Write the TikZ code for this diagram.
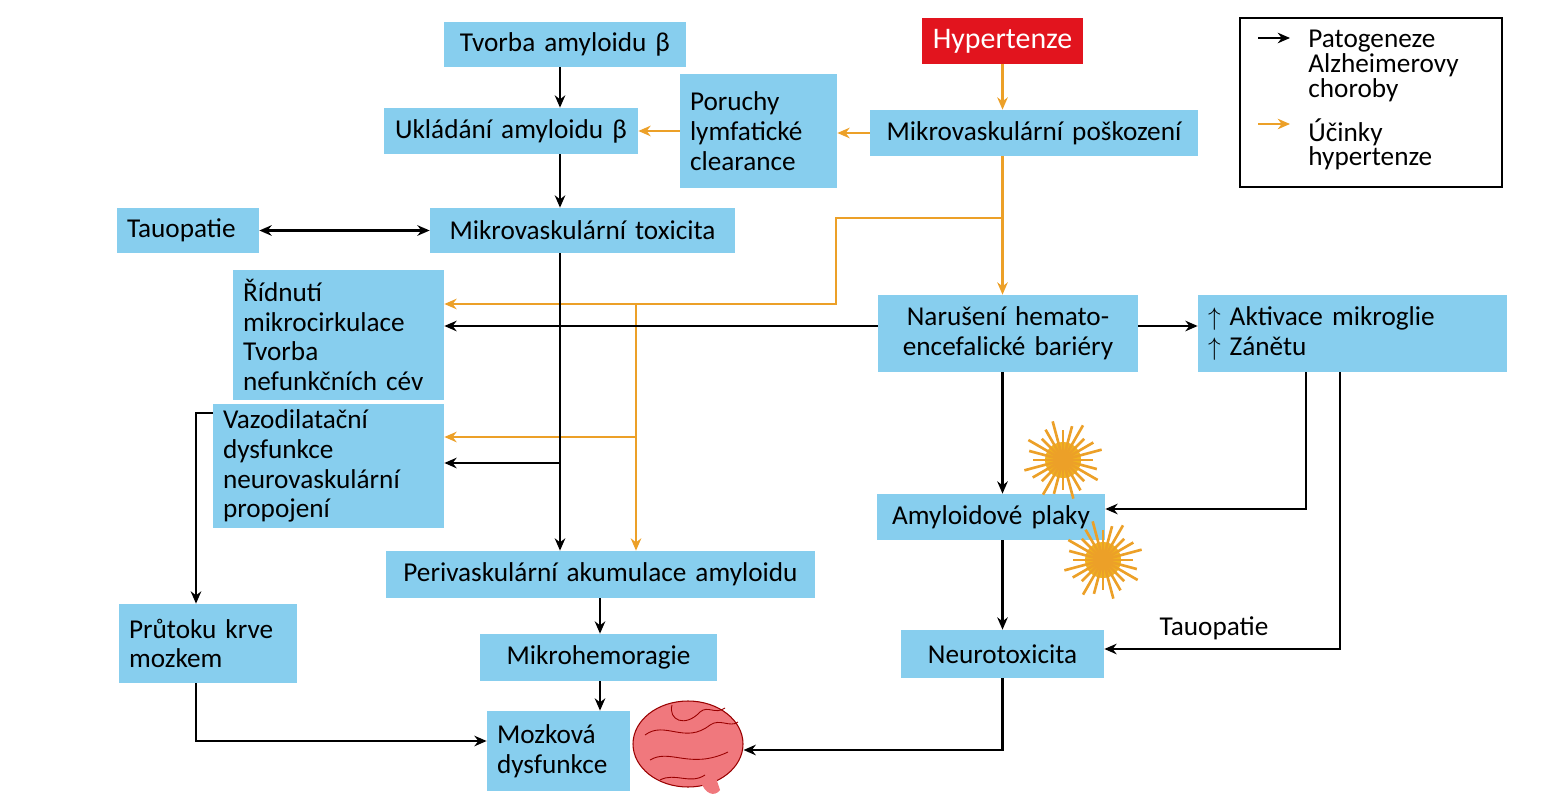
\documentclass[tikz,border=0pt]{standalone}
\usepackage{fontspec}
\setmainfont{Carlito}
\usetikzlibrary{arrows.meta,calc,shapes.geometric}
\definecolor{bx}{RGB}{135,206,238}
\definecolor{hr}{RGB}{226,20,30}
\definecolor{og}{RGB}{236,160,40}
\definecolor{brn}{RGB}{240,120,125}
\newcommand{\bxx}[7]{\node[box,#7,minimum width={(#4-#2)*0.02cm},minimum height={(#5-#3)*0.02cm},text width={(#4-#2-20)*0.02cm}] (#1) at ({(#2+#4)/2},{(#3+#5)/2}) {#6};}
\begin{document}
\begin{tikzpicture}[x=0.02cm,y=-0.02cm,
 box/.style={fill=bx,inner sep=0pt,font=\fontsize{15.5}{17}\selectfont},
 bk/.style={line width=1.2pt,-{Stealth[length=7pt,width=6pt]}},
 or/.style={line width=1.2pt,og,-{Stealth[length=7pt,width=6pt]}},
 ln/.style={line width=1.2pt}]
\useasboundingbox (0,0) rectangle (1567,800);
\bxx{tv}{444}{22}{686}{67}{Tvorba amyloidu β}{align=center}
\bxx{hy}{922}{18}{1083}{64}{\textcolor{white}{\fontsize{17}{19}\selectfont Hypertenze}}{align=center,fill=hr}
\bxx{uk}{384}{108}{638}{154}{Ukládání amyloidu β}{align=center}
\bxx{po}{680}{74}{837}{188}{Poruchy\\lymfatické\\clearance}{align=left}
\bxx{mp}{870}{110}{1198}{156}{Mikrovaskulární poškození}{align=center}
\bxx{ta}{117}{208}{259}{253}{Tauopatie}{align=left}
\bxx{mt}{430}{208}{735}{253}{Mikrovaskulární toxicita}{align=center}
\bxx{ri}{233}{270}{444}{400}{Řídnutí\\mikrocirkulace\\Tvorba\\nefunkčních cév}{align=left}
\bxx{na}{878}{295}{1138}{372}{Narušení hemato-\\encefalické bariéry}{align=center}
\bxx{ak}{1198}{295}{1507}{372}{$\uparrow$ Aktivace mikroglie\\$\uparrow$ Zánětu}{align=left}
\bxx{va}{213}{404}{444}{528}{Vazodilatační\\dysfunkce\\neurovaskulární\\propojení}{align=left}
\bxx{am}{877}{494}{1105}{540}{Amyloidové plaky}{align=center}
\bxx{pe}{386}{551}{815}{598}{Perivaskulární akumulace amyloidu}{align=center}
\bxx{pr}{119}{604}{297}{683}{Průtoku krve\\mozkem}{align=left}
\bxx{mh}{480}{634}{717}{681}{Mikrohemoragie}{align=center}
\bxx{ne}{901}{630}{1104}{678}{Neurotoxicita}{align=center}
\bxx{mo}{487}{711}{630}{791}{Mozková\\dysfunkce}{align=left}
% legend
\draw[line width=1.3pt] (1240,18) rectangle (1502,187);
\coordinate (l1) at (1258,38); \coordinate (l2) at (1290,38);
\draw[bk] (l1) -- (l2);
\coordinate (l3) at (1258,124); \coordinate (l4) at (1290,124);
\draw[or] (l3) -- (l4);
\node[anchor=north west,align=left,inner sep=0pt,font=\fontsize{15.5}{14}\selectfont] (lt1) at (1308,30) {Patogeneze\\Alzheimerovy\\choroby};
\node[anchor=north west,align=left,inner sep=0pt,font=\fontsize{15.5}{14}\selectfont] (lt2) at (1308,118) {Účinky\\hypertenze};
% brain
\node[ellipse,fill=brn,draw=red!60!black,line width=0.6pt,minimum width=110*0.02cm,minimum height=86*0.02cm] (br) at (688,744) {};
\fill[brn] (700,780) .. controls (705,795) and (715,797) .. (720,790) -- (715,775) -- cycle;
\draw[red!60!black,line width=0.5pt] (645,735) .. controls (665,720) and (685,745) .. (710,725) .. controls (720,718) and (730,728) .. (738,722)
 (650,760) .. controls (670,748) and (690,770) .. (728,752)
 (672,705) .. controls (668,720) and (685,728) .. (700,712) .. controls (708,705) and (715,715) .. (725,708)
 (660,780) .. controls (675,772) and (690,785) .. (705,775);
% microglia
\foreach \cx/\cy in {1063/460,1103/560}{
 \fill[og!80!yellow] (\cx,\cy) circle (18);
 \foreach \a in {0,15,...,345}{\draw[og,line width=1.5pt] (\cx,\cy) -- ++(\a:{30+mod(\a,45)/3});}
}
% connectors
\draw[bk] (tv.south -| 560,0) -- (uk.north -| 560,0);
\draw[bk] (uk.south -| 560,0) -- (mt.north -| 560,0);
\draw[or] (hy) -- (mp.north -| hy);
\draw[or] (mp.west) -- (po.east |- mp.west);
\draw[or] (po.west |- uk.east) -- (uk.east);
\draw[bk,{Stealth[length=7pt,width=6pt]}-{Stealth[length=7pt,width=6pt]}] (ta) -- (mt);
\draw[or] (mp.south -| hy) -- (na.north -| hy);
\coordinate (o1) at (1003,218);
\draw[or] (o1) -| (836,304) -- (ri.east |- 0,304);
\draw[or] (636,304) -- (pe.north -| 636,0);
\draw[or] (636,437) -- (va.east |- 0,437);
\draw[bk] (na.west |- 0,326) -- (ri.east |- 0,326);
\draw[bk] (na.east |- 0,326) -- (ak.west |- 0,326);
\draw[bk] (mt.south -| 560,0) -- (pe.north -| 560,0);
\draw[bk] (560,463) -- (va.east |- 0,463);
\draw[bk] (va.west |- 0,413) -| (pr.north -| 196,0);
\draw[bk] (pr.south -| 196,0) |- (mo.west |- 0,741);
\draw[bk] (pe.south -| 600,0) -- (mh.north -| 600,0);
\draw[bk] (mh.south -| 600,0) -- (mo.north -| 600,0);
\draw[bk] (na.south -| hy) -- (am.north -| hy);
\draw[bk] (am.south -| hy) -- (ne.north -| hy);
\draw[bk] (ak.south -| 1306,0) |- (am.east |- 0,509);
\draw[bk] (ak.south -| 1340,0) |- (ne.east |- 0,649);
\node[font=\fontsize{15.5}{17}\selectfont,inner sep=0pt] (tl) at (1214,628) {Tauopatie};
\draw[bk] (ne.south -| hy) |- (br.east |- 0,750);
\end{tikzpicture}
\end{document}
